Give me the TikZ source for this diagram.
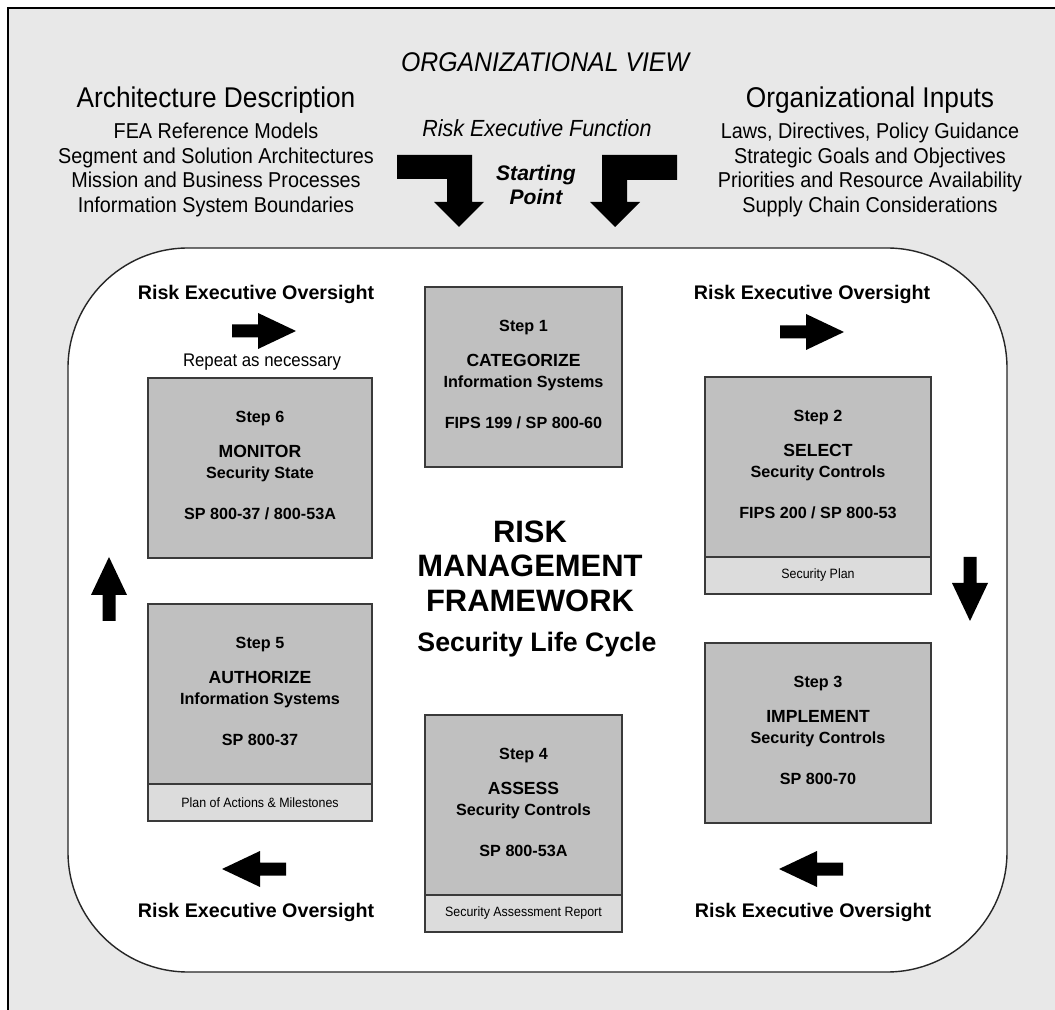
\documentclass[tikz,border=0pt]{standalone}
\usepackage{fontspec}
\setmainfont{Liberation Sans}
\newfontfamily\narrowfont[FakeStretch=0.92]{Liberation Sans}
\usetikzlibrary{positioning,calc}

\definecolor{pagegray}{HTML}{E8E8E8}
\definecolor{boxgray}{HTML}{C0C0C0}
\definecolor{stripgray}{HTML}{DCDCDC}
\definecolor{edgegray}{HTML}{3A3A3A}

\def\px{0.025cm}

% one RMF step: name, left, top, width, number, title, subtitle, reference
\newcommand{\rmfstep}[8]{%
  \node[stepbox, minimum width=#4*\px, anchor=north west] (#1) at (#2,#3) {};
  \node[steplabel] (#1num) at ($(#1.north)+(0,41)$) {Step #5};
  \node[steptitle] (#1title) at ($(#1.north)+(0,73)$) {#6};
  \node[steplabel] (#1sub) at ($(#1.north)+(0,96)$) {#7};
  \node[steplabel] (#1ref) at ($(#1.north)+(0,136)$) {#8};
}

\begin{document}
\begin{tikzpicture}[
    x=\px, y=-\px,
    stepbox/.style={rectangle, draw=edgegray, line width=1.4pt, fill=boxgray, minimum height=180*\px, inner sep=0pt, outer sep=0pt},
    stripbox/.style={rectangle, draw=edgegray, line width=1.2pt, fill=stripgray, minimum height=37*\px, inner sep=0pt, outer sep=0pt, font=\narrowfont\fontsize{9.6}{11}\selectfont},
    steplabel/.style={inner sep=0pt, font=\fontsize{11.5}{13}\selectfont\bfseries},
    steptitle/.style={inner sep=0pt, font=\fontsize{12.5}{14}\selectfont\bfseries},
    oversight/.style={inner sep=0pt, font=\fontsize{14}{16}\selectfont\bfseries},
    heading/.style={inner sep=0pt, font=\narrowfont\fontsize{20.3}{24}\selectfont},
    itemlist/.style={inner sep=0pt, align=center, font=\narrowfont\fontsize{15.3}{17.4}\selectfont},
    blockarrow/.pic={\fill[black] (0,-6.5) -- (26,-6.5) -- (26,-18) -- (64,0) -- (26,18) -- (26,6.5) -- (0,6.5) -- cycle;}
]
    \useasboundingbox (0,0) rectangle (1055,1010);

    % page frame
    \fill[pagegray] (8,8) rectangle (1055,1010);
    \draw[line width=1.1pt] (8,1010) -- (8,8) -- (1055,8);

    % organizational view
    \node[inner sep=0pt, font=\narrowfont\itshape\fontsize{19.2}{22}\selectfont] (orgview) at (545,62) {ORGANIZATIONAL VIEW};

    \node[heading] (archhead) at (216,100) {Architecture Description};
    \node[itemlist] (archlist) at (216,170) {FEA Reference Models\\Segment and Solution Architectures\\Mission and Business Processes\\Information System Boundaries};

    \node[heading] (inhead) at (870,100) {Organizational Inputs};
    \node[itemlist] (inlist) at (870,170) {Laws, Directives, Policy Guidance\\Strategic Goals and Objectives\\Priorities and Resource Availability\\Supply Chain Considerations};

    \node[inner sep=0pt, font=\narrowfont\itshape\fontsize{16.6}{20}\selectfont] (refunc) at (537,128) {Risk Executive Function};
    \node[inner sep=0pt, align=center, font=\fontsize{15}{17.6}\selectfont\bfseries\itshape] (start) at (536,185) {Starting\\Point};

    % starting point arrows
    \fill (397,155) -- (472,155) -- (472,202) -- (484,202) -- (459,227) -- (434,202) -- (447,202) -- (447,179) -- (397,179) -- cycle;
    \fill (677,155) -- (602,155) -- (602,202) -- (590,202) -- (615,227) -- (640,202) -- (627,202) -- (627,180) -- (677,180) -- cycle;

    % security life cycle
    \node[draw=black!85, line width=1pt, fill=white, rounded corners=120*\px, minimum width=939*\px, minimum height=724*\px, inner sep=0pt] (cycle) at (537.5,610) {};

    \rmfstep{s1}{425}{287}{197}{1}{CATEGORIZE}{Information Systems}{FIPS 199 / SP 800-60}
    \rmfstep{s2}{705}{377}{226}{2}{SELECT}{Security Controls}{FIPS 200 / SP 800-53}
    \rmfstep{s3}{705}{643}{226}{3}{IMPLEMENT}{Security Controls}{SP 800-70}
    \rmfstep{s4}{425}{715}{197}{4}{ASSESS}{Security Controls}{SP 800-53A}
    \rmfstep{s5}{148}{604}{224}{5}{AUTHORIZE}{Information Systems}{SP 800-37}
    \rmfstep{s6}{148}{378}{224}{6}{MONITOR}{Security State}{SP 800-37 / 800-53A}

    \node[stripbox, minimum width=226*\px, anchor=north west] (s2plan) at (s2.south west) {Security Plan};
    \node[stripbox, minimum width=197*\px, anchor=north west] (s4report) at (s4.south west) {Security Assessment Report};
    \node[stripbox, minimum width=224*\px, anchor=north west] (s5poam) at (s5.south west) {Plan of Actions \& Milestones};

    \node[inner sep=0pt, align=center, font=\fontsize{22}{24.6}\selectfont\bfseries] (rmf) at (530,566) {RISK\\MANAGEMENT\\FRAMEWORK};
    \node[inner sep=0pt, font=\fontsize{19}{22}\selectfont\bfseries] (life) at (537,645) {Security Life Cycle};

    % risk executive oversight
    \node[oversight] (ov1) at (256,294) {Risk Executive Oversight};
    \node[oversight] (ov2) at (812,294) {Risk Executive Oversight};
    \node[oversight] (ov3) at (813,912) {Risk Executive Oversight};
    \node[oversight] (ov4) at (256,912) {Risk Executive Oversight};
    \node[inner sep=0pt, font=\narrowfont\fontsize{13}{16}\selectfont] (repeat) at (262,362) {Repeat as necessary};

    \pic at (232,331) {blockarrow};
    \pic at (780,332) {blockarrow};
    \pic[rotate=-90] at (970,557) {blockarrow};
    \pic[rotate=180] at (843,869) {blockarrow};
    \pic[rotate=180] at (286,869) {blockarrow};
    \pic[rotate=90] at (109,621) {blockarrow};
\end{tikzpicture}
\end{document}
